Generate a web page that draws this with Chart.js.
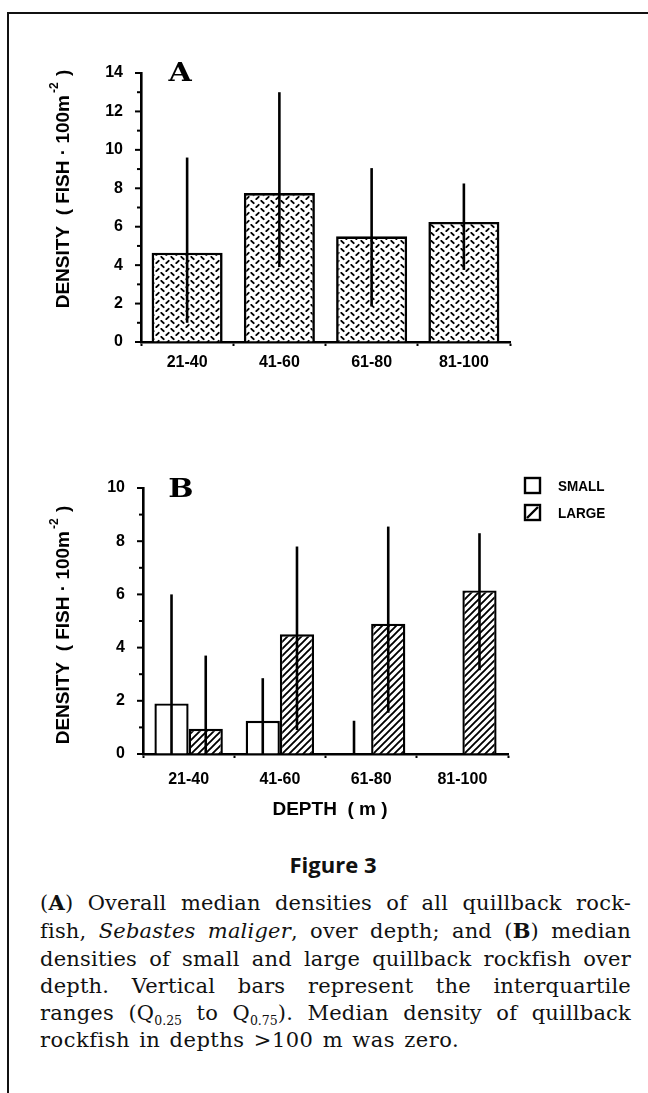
<!DOCTYPE html>
<html>
<head>
<meta charset="utf-8">
<script src="https://cdn.jsdelivr.net/npm/chart.js@4.4.1/dist/chart.umd.min.js"></script>
<style>
html,body{margin:0;padding:0;background:#fff;}
body{width:648px;height:1093px;overflow:hidden;position:relative;}
#frameL{position:absolute;left:7px;top:12px;width:2px;height:1081px;background:#111;}
#frameT{position:absolute;left:7px;top:12px;width:641px;height:2px;background:#111;}
#wa{position:absolute;left:0;top:0;width:648px;height:400px;}
#wb{position:absolute;left:0;top:420px;width:648px;height:420px;}
#figt{position:absolute;left:0;width:666px;top:849px;text-align:center;font-family:"Open Sans",sans-serif;font-weight:700;font-size:22px;color:#111;}
#cap{position:absolute;left:40px;top:889px;width:591px;font-family:"DejaVu Serif",serif;font-size:21px;line-height:27.3px;color:#111;letter-spacing:0.2px;}
#cap .ln{text-align:justify;text-align-last:justify;white-space:nowrap;}
#cap .ln.last{text-align:left;text-align-last:left;letter-spacing:0.5px;word-spacing:2px;}
#cap sub{font-size:12.5px;vertical-align:-5px;line-height:0;letter-spacing:0;}
</style>
</head>
<body>
<div id="frameL"></div><div id="frameT"></div>
<div id="wa"><canvas id="ca" width="648" height="400"></canvas></div>
<div id="wb"><canvas id="cb" width="648" height="420"></canvas></div>
<div id="figt">Figure 3</div>
<div id="cap">
<div class="ln">(<b>A</b>) Overall median densities of all quillback rock-</div>
<div class="ln">fish, <i>Sebastes maliger</i>, over depth; and (<b>B</b>) median</div>
<div class="ln">densities of small and large quillback rockfish over</div>
<div class="ln">depth. Vertical bars represent the interquartile</div>
<div class="ln">ranges (Q<sub>0.25</sub> to Q<sub>0.75</sub>). Median density of quillback</div>
<div class="ln last">rockfish in depths &gt;100 m was zero.</div>
</div>
<script>
// ---------- data ----------
const depthLabels = ['21-40', '41-60', '61-80', '81-100'];
// Panel A: all quillback rockfish
const allMedian = [4.65, 7.75, 5.5, 6.25];
const allQ25    = [1.0, 3.9, 1.85, 3.75];
const allQ75    = [9.6, 13.0, 9.05, 8.25];
// Panel B: small and large fish
const smallMedian = [1.9, 1.25, 0, 0];
const smallQ25    = [0, 0, 0, 0];
const smallQ75    = [6.0, 2.85, 1.25, 0];
const largeMedian = [0.95, 4.5, 4.9, 6.15];
const largeQ25    = [0, 0.9, 1.55, 3.15];
const largeQ75    = [3.7, 7.8, 8.55, 8.3];
const yMaxA = 14, yMaxB = 10;
const seriesNamesB = ['SMALL', 'LARGE'];

// ---------- patterns ----------
function treadPattern() {
  const w = 10, h = 8;
  const c = document.createElement('canvas'); c.width = w; c.height = h;
  const g = c.getContext('2d');
  g.fillStyle = '#fff'; g.fillRect(0, 0, w, h);
  g.strokeStyle = '#000'; g.lineWidth = 1.9; g.lineCap = 'round';
  const seg = (a, b, cc, d) => { g.beginPath(); g.moveTo(a, b); g.lineTo(cc, d); g.stroke(); };
  seg(1.3, 0.8, 3.7, 3.2);   // '\'
  seg(8.7, 4.8, 6.3, 7.2);   // '/'
  return g.createPattern(c, 'repeat');
}
function hatchPattern() {
  const s = 7;
  const c = document.createElement('canvas'); c.width = s; c.height = s;
  const g = c.getContext('2d');
  g.fillStyle = '#fff'; g.fillRect(0, 0, s, s);
  g.strokeStyle = '#000'; g.lineWidth = 1.9;
  g.beginPath();
  g.moveTo(-1, s + 1); g.lineTo(s + 1, -1);
  g.moveTo(-2, 2); g.lineTo(2, -2);
  g.moveTo(s - 2, s + 2); g.lineTo(s + 2, s - 2);
  g.stroke();
  return g.createPattern(c, 'repeat');
}
const tread = treadPattern();
const hatch = hatchPattern();

// ---------- plugins ----------
const errorBarPlugin = {
  id: 'errbars',
  afterDatasetsDraw(chart) {
    const ctx = chart.ctx, ys = chart.scales.y;
    chart.data.datasets.forEach((ds, i) => {
      const meta = chart.getDatasetMeta(i);
      meta.data.forEach((bar, j) => {
        const lo = ds.q25[j], hi = ds.q75[j];
        if (hi <= lo) return;
        ctx.save();
        ctx.strokeStyle = '#000'; ctx.lineWidth = 2.6;
        ctx.beginPath();
        ctx.moveTo(bar.x, ys.getPixelForValue(lo));
        ctx.lineTo(bar.x, ys.getPixelForValue(hi));
        ctx.stroke();
        ctx.restore();
      });
    });
  }
};

const yTickPlugin = {
  id: 'yticks',
  afterDraw(chart) {
    const ctx = chart.ctx, ys = chart.scales.y;
    const x = chart.chartArea.left;
    ctx.save();
    ctx.strokeStyle = '#000'; ctx.lineWidth = 2;
    for (let v = ys.min; v <= ys.max; v += 1) {
      const y = ys.getPixelForValue(v);
      const len = (v % 2 === 0) ? 6 : 4;
      ctx.beginPath(); ctx.moveTo(x - len, y); ctx.lineTo(x + 1, y); ctx.stroke();
    }
    ctx.restore();
  }
};

const annotPlugin = {
  id: 'annot',
  afterDraw(chart, args, o) {
    const ctx = chart.ctx;
    ctx.save();
    ctx.fillStyle = '#000';
    // panel letter
    ctx.font = 'bold 26px "DejaVu Serif", serif';
    ctx.textAlign = 'center'; ctx.textBaseline = 'alphabetic';
    ctx.save();
    ctx.translate(o.letterX, o.letterY);
    ctx.scale(1.15, 1);
    ctx.fillText(o.letter, 0, 0);
    ctx.restore();
    // y-axis title with superscript
    ctx.save();
    ctx.translate(o.yTitleX, o.yTitleY);
    ctx.rotate(-Math.PI / 2);
    const mainFont = 'bold 19px "Liberation Sans", Arial, sans-serif';
    const supFont = 'bold 12px "Liberation Sans", Arial, sans-serif';
    const p1 = 'DENSITY  ( FISH · 100m', p2 = '-2', p3 = ' )';
    ctx.font = mainFont; const w1 = ctx.measureText(p1).width; const w3 = ctx.measureText(p3).width;
    ctx.font = supFont; const w2 = ctx.measureText(p2).width + 3;
    let x0 = -(w1 + w2 + w3) / 2;
    ctx.textAlign = 'left'; ctx.textBaseline = 'middle';
    ctx.font = mainFont; ctx.fillText(p1, x0, 0);
    ctx.font = supFont; ctx.fillText(p2, x0 + w1 + 2, -9);
    ctx.font = mainFont; ctx.fillText(p3, x0 + w1 + w2, 0);
    ctx.restore();
    // x-axis title
    if (o.xTitle) {
      ctx.font = 'bold 19px "Liberation Sans", Arial, sans-serif';
      ctx.textAlign = 'center'; ctx.textBaseline = 'middle';
      ctx.fillText(o.xTitle, o.xTitleX, o.xTitleY);
    }
    // legend
    if (o.legend) {
      chart.data.datasets.forEach((ds, i) => {
        const bx = o.legendX, by = o.legendY + i * 27;
        ctx.fillStyle = '#fff'; ctx.fillRect(bx, by, 15, 15);
        ctx.strokeStyle = '#000'; ctx.lineWidth = 2.4;
        if (ds.hatched) {
          ctx.beginPath(); ctx.moveTo(bx + 2, by + 13); ctx.lineTo(bx + 13, by + 2); ctx.stroke();
        }
        ctx.strokeRect(bx, by, 15, 15);
        ctx.fillStyle = '#000';
        ctx.font = 'bold 15px "Liberation Sans", Arial, sans-serif';
        ctx.textAlign = 'left'; ctx.textBaseline = 'middle';
        ctx.save();
        ctx.translate(bx + 33, by + 9);
        ctx.scale(0.9, 1);
        ctx.fillText(ds.label, 0, 0);
        ctx.restore();
      });
    }
    ctx.restore();
  }
};

Chart.defaults.font.family = '"Liberation Sans", Arial, sans-serif';
Chart.defaults.color = '#000';
Chart.defaults.animation = false;

function scalesFor(yMax, yWidth, tickPad) {
  return {
    x: {
      type: 'category',
      offset: true,
      grid: { display: true, drawOnChartArea: false, offset: true, tickLength: 4, tickWidth: 2, tickColor: '#000' },
      border: { display: true, color: '#000', width: 2.6 },
      ticks: { font: { size: 16, weight: 'bold' }, padding: tickPad, maxRotation: 0, autoSkip: false },
      afterFit(s) { s.height = 40; }
    },
    y: {
      min: 0, max: yMax,
      grid: { display: true, drawOnChartArea: false, drawTicks: false },
      border: { display: true, color: '#000', width: 2.6 },
      ticks: {
        stepSize: 1, autoSkip: false, padding: 18,
        font: { size: 16, weight: 'bold' },
        callback: (v) => (v % 2 === 0 ? String(v) : '')
      },
      afterFit(s) { s.width = yWidth; }
    }
  };
}

new Chart(document.getElementById('ca'), {
  type: 'bar',
  data: {
    labels: depthLabels,
    datasets: [{
      label: 'ALL', data: allMedian, q25: allQ25, q75: allQ75,
      backgroundColor: tread, borderColor: '#000', borderWidth: 2.6, borderSkipped: 'bottom',
      categoryPercentage: 1.0, barPercentage: 0.77
    }]
  },
  options: {
    responsive: false, maintainAspectRatio: false,
    layout: { padding: { top: 73, right: 138, bottom: 18, left: 0 } },
    scales: scalesFor(yMaxA, 141, 7),
    plugins: {
      legend: { display: false }, tooltip: { enabled: false },
      annot: { letter: 'A', letterX: 180, letterY: 81, yTitleX: 64, yTitleY: 189 }
    }
  },
  plugins: [errorBarPlugin, yTickPlugin, annotPlugin]
});

new Chart(document.getElementById('cb'), {
  type: 'bar',
  data: {
    labels: depthLabels,
    datasets: [
      { label: seriesNamesB[0], data: smallMedian, q25: smallQ25, q75: smallQ75, hatched: false,
        backgroundColor: '#fff', borderColor: '#000', borderWidth: 2.4, borderSkipped: 'bottom',
        categoryPercentage: 0.75, barPercentage: 1.0 },
      { label: seriesNamesB[1], data: largeMedian, q25: largeQ25, q75: largeQ75, hatched: true,
        backgroundColor: hatch, borderColor: '#000', borderWidth: 2.4, borderSkipped: 'bottom',
        categoryPercentage: 0.75, barPercentage: 1.0 }
    ]
  },
  options: {
    responsive: false, maintainAspectRatio: false,
    layout: { padding: { top: 68, right: 140, bottom: 46, left: 0 } },
    scales: scalesFor(yMaxB, 143, 12),
    plugins: {
      legend: { display: false }, tooltip: { enabled: false },
      annot: { letter: 'B', letterX: 181, letterY: 77, yTitleX: 64, yTitleY: 205,
               xTitle: 'DEPTH  ( m )', xTitleX: 330, xTitleY: 390,
               legend: true, legendX: 525, legendY: 58 }
    }
  },
  plugins: [errorBarPlugin, yTickPlugin, annotPlugin]
});
</script>
</body>
</html>
